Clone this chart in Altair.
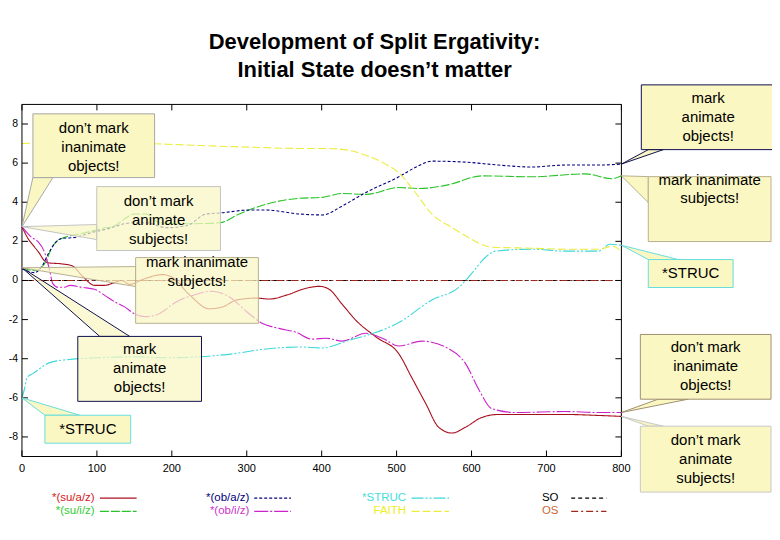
import altair as alt
import pandas as pd

W, H = 601, 353
X_DOM = [0, 800]
Y_DOM = [-9, 9]
FONT = "Liberation Sans"
BOX_FILL = "#faf7c2"

# ---------------- series data ----------------
su_a_z_x = [0, 8, 17, 24, 28, 35, 53, 67, 80, 97, 110, 124, 133, 144, 161, 188, 201, 224, 250, 268,
            286, 313, 330, 353, 379, 397, 410, 427, 446, 473, 503, 520, 539, 556, 574, 592, 614, 636, 725, 769, 800]
su_a_z_y = [2.75, 2.15, 1.7, 1.35, 1.1, 0.9, 0.85, 0.75, 0.25, -0.25, -0.25, -0.1, 0.0, -0.2, 0.05, 0.3, 0.15, -0.75, -1.45, -1.35,
            -1.0, -0.9, -0.95, -0.75, -0.4, -0.3, -0.45, -1.2, -2.05, -2.9, -3.75, -4.95, -6.3, -7.5, -7.8, -7.5, -7.0, -6.85, -6.85, -6.9, -6.95]

su_i_z_x = [0, 17, 31, 40, 53, 80, 106, 124, 137, 150, 166, 184, 220, 264, 290, 326, 370, 401, 427, 459,
            503, 530, 570, 614, 680, 752, 787, 800]
su_i_z_y = [0.65, 0.5, 0.9, 1.7, 2.15, 2.4, 2.65, 2.8, 3.15, 3.4, 3.4, 2.95, 2.9, 2.95, 3.4, 3.9, 4.2, 4.25, 4.45, 4.4,
            4.75, 4.7, 4.9, 5.35, 5.3, 5.45, 5.2, 5.35]

ob_a_z_x = [0, 17, 27, 35, 44, 53, 71, 80, 93, 110, 148, 166, 193, 220, 246, 264, 303, 326, 370, 401,
            427, 459, 503, 526, 547, 592, 636, 680, 725, 769, 800]
ob_a_z_y = [0.6, 0.4, 0.75, 1.35, 1.9, 2.15, 2.2, 2.3, 2.45, 2.6, 2.95, 2.95, 2.7, 2.8, 3.4, 3.45, 3.6, 3.6, 3.4, 3.35,
            3.8, 4.5, 5.3, 5.8, 6.1, 6.05, 5.9, 5.8, 5.9, 5.9, 5.95]

ob_i_z_x = [0, 13, 21, 31, 37, 41, 48, 57, 64, 80, 97, 110, 124, 137, 150, 164, 180, 206, 233, 254,
            277, 300, 321, 343, 366, 387, 406, 427, 459, 481, 503, 534, 570, 592, 610, 627, 659, 725, 769, 800]
ob_i_z_y = [2.75, 2.2, 2.0, 1.35, 0.5, -0.15, -0.35, -0.35, -0.25, -0.35, -0.45, -0.75, -1.1, -1.35, -1.7, -1.85, -1.75, -1.1, -0.7, -0.55,
            -0.85, -1.6, -2.2, -2.45, -2.65, -3.0, -2.95, -3.1, -2.7, -2.95, -3.35, -3.1, -3.5, -4.25, -5.6, -6.55, -6.75, -6.7, -6.75, -6.75]

struc_x = [0, 3, 7, 15, 37, 60, 104, 148, 193, 237, 281, 326, 370, 401, 437, 473, 503, 547, 583, 600,
           619, 632, 680, 725, 769, 785, 800]
struc_y = [-6.0, -5.6, -4.95, -4.75, -4.2, -4.05, -3.95, -3.9, -3.95, -3.9, -3.75, -3.5, -3.4, -3.45, -3.05, -2.65, -2.15, -1.0, -0.35, 0.35,
           1.2, 1.5, 1.6, 1.5, 1.5, 1.85, 1.8]

faith_x = [0, 51, 104, 170, 237, 317, 370, 406, 437, 459, 483, 503, 523, 547, 574, 596, 610, 627, 680, 725, 769, 789, 800]
faith_y = [7.0, 7.05, 7.07, 7.0, 6.9, 6.8, 6.75, 6.75, 6.65, 6.4, 6.0, 5.5, 4.6, 3.4, 2.7, 2.2, 1.9, 1.7, 1.65, 1.6, 1.6, 1.75, 1.45]

so_x = [0, 200, 400, 600, 800]
so_y = [0.0, 0.0, 0.0, 0.0, 0.0]
os_x = [0, 200, 400, 600, 800]
os_y = [0.0, 0.0, 0.0, 0.0, 0.0]

series_names = ["*(su/a/z)", "*(su/i/z)", "*(ob/a/z)", "*(ob/i/z)", "*STRUC", "FAITH", "SO", "OS"]
series_x = [su_a_z_x, su_i_z_x, ob_a_z_x, ob_i_z_x, struc_x, faith_x, so_x, os_x]
series_y = [su_a_z_y, su_i_z_y, ob_a_z_y, ob_i_z_y, struc_y, faith_y, so_y, os_y]
series_colors = ["#a80f1c", "#28c428", "#000080", "#cc22cc", "#3ed8d8", "#ecec3c", "#000000", "#a0281a"]
label_colors = ["#d42020", "#33cc33", "#000080", "#cc33cc", "#44dddd", "#eeee22", "#000000", "#cc6633"]
series_dash = [[1, 0], [9, 2], [3, 2], [14, 2, 2, 2], [12, 2, 2, 2, 2, 2], [8, 3], [4, 3], [7, 3, 2, 3]]

x_ticks = [0, 100, 200, 300, 400, 500, 600, 700, 800]
y_ticks = [-8, -6, -4, -2, 0, 2, 4, 6, 8]

# ---------------- legend layout ----------------
legend_text_x = [97, 97, 303.5, 303.5, 512.5, 512.5, 716, 716]
legend_line_x1 = [104, 104, 310, 310, 520, 520, 733, 733]
legend_line_x2 = [153, 153, 359, 359, 570, 570, 780, 780]
legend_y = [-11.13, -11.8, -11.13, -11.8, -11.13, -11.8, -11.13, -11.8]

# ---------------- callouts ----------------
callout_texts = ["don’t mark\ninanimate\nobjects!", "don’t mark\nanimate\nsubjects!", "mark inanimate\nsubjects!",
                 "mark\nanimate\nobjects!", "*STRUC", "mark\nanimate\nobjects!", "mark inanimate\nsubjects!",
                 "*STRUC", "don’t mark\ninanimate\nobjects!", "don’t mark\nanimate\nsubjects!"]
box_x1 = [14.6, 99.8, 151.7, 74.5, 30.6, 826.6, 835.9, 835.9, 825.3, 825.3]
box_x2 = [177.0, 264.9, 315.5, 239.6, 145.1, 1005.0, 999.7, 949.1, 999.7, 999.7]
box_y1 = [8.52, 4.80, 1.17, -2.86, -6.89, 10.0, 5.31, 1.07, -2.76, -7.45]
box_y2 = [5.26, 1.53, -2.19, -6.18, -8.32, 6.69, 1.99, -0.36, -6.07, -10.82]
first_line_y = [7.81, 4.08, 0.92, -3.52, -7.61, 9.34, 5.16, 0.36, -3.42, -8.17]
box_border = ["#a8a8a8", "#c4c4c4", "#b8b090", "#101050", "#66dddd", "#101050", "#b8b090", "#66dddd", "#a09070", "#c8c8c8"]
box_opacity = [1, 0.72, 0.72, 0.72, 1, 1, 1, 1, 1, 1]
ptr_orient = ["h", "v", "v", "h", "h", "h", "v", "h", "h", "h"]
ptr_tip_x = [0, 0, 0, 0, 0, 800, 800, 800, 800, 800]
ptr_tip_y = [su_a_z_y[0], su_a_z_y[0], su_i_z_y[0], su_i_z_y[0], struc_y[0],
             ob_a_z_y[-1], su_i_z_y[-1], struc_y[-1], ob_i_z_y[-1], su_a_z_y[-1]]
ptr_edge = [5.26, 99.8, 151.7, -2.86, -6.89, 6.69, 835.9, 1.07, -6.07, -7.45]
ptr_from = [14.6, 2.86, 0.71, 103.8, 30.6, 836, 5.31, 836, 849, 836]
ptr_to = [41.3, 2.09, -0.31, 143.8, 77.2, 856, 3.98, 876, 889, 856]

# ---------------- build tables ----------------
rows = []
for name, xs, ys in zip(series_names, series_x, series_y):
    for xv, yv in zip(xs, ys):
        rows.append({"series": name, "x": xv, "y": yv})
df_lines = pd.DataFrame(rows)

df_legend = pd.DataFrame({
    "series": series_names, "tcol": label_colors, "tx": legend_text_x,
    "lx1": legend_line_x1, "lx2": legend_line_x2, "ly": legend_y,
})

df_boxes = pd.DataFrame({
    "id": list(range(len(callout_texts))), "label": callout_texts,
    "x1": box_x1, "x2": box_x2, "y1": box_y1, "y2": box_y2,
    "tx": [(a + b) / 2 for a, b in zip(box_x1, box_x2)], "ty": first_line_y,
    "border": box_border, "op": box_opacity,
})

h_rows, v_rows = [], []
for i, o in enumerate(ptr_orient):
    if o == "h":
        h_rows.append({"id": i, "py": ptr_tip_y[i], "px1": ptr_tip_x[i], "px2": ptr_tip_x[i],
                       "border": box_border[i], "op": box_opacity[i]})
        h_rows.append({"id": i, "py": ptr_edge[i], "px1": ptr_from[i], "px2": ptr_to[i],
                       "border": box_border[i], "op": box_opacity[i]})
    else:
        v_rows.append({"id": i, "px": ptr_tip_x[i], "py1": ptr_tip_y[i], "py2": ptr_tip_y[i],
                       "border": box_border[i], "op": box_opacity[i]})
        v_rows.append({"id": i, "px": ptr_edge[i], "py1": ptr_from[i], "py2": ptr_to[i],
                       "border": box_border[i], "op": box_opacity[i]})
df_ph = pd.DataFrame(h_rows)
df_pv = pd.DataFrame(v_rows)

xs_ = alt.Scale(domain=X_DOM, nice=False, zero=False)
ys_ = alt.Scale(domain=Y_DOM, nice=False, zero=False)
color_scale = alt.Scale(domain=series_names, range=series_colors)
dash_scale = alt.Scale(domain=series_names, range=series_dash)

lines = alt.Chart(df_lines).mark_line(strokeWidth=1.1, interpolate="monotone").encode(
    x=alt.X("x:Q", scale=xs_, axis=None),
    y=alt.Y("y:Q", scale=ys_, axis=None),
    color=alt.Color("series:N", scale=color_scale, legend=None),
    strokeDash=alt.StrokeDash("series:N", scale=dash_scale, legend=None),
    detail="series:N",
)

# frame, inward ticks and tick labels
df_frame = pd.DataFrame({"k": [0]})
frame = alt.Chart(df_frame).mark_rect(fill=None, fillOpacity=0, stroke="black", strokeWidth=1).encode(
    x=alt.value(0), x2=alt.value(W), y=alt.value(0), y2=alt.value(H))

df_yt = pd.DataFrame({"v": y_ticks, "lab": [str(v) for v in y_ticks]})
df_xt = pd.DataFrame({"v": x_ticks, "lab": [str(v) for v in x_ticks]})
tick_l = alt.Chart(df_yt).mark_rule(color="black", strokeWidth=1).encode(
    y=alt.Y("v:Q", scale=ys_, axis=None), x=alt.value(0), x2=alt.value(6))
tick_r = alt.Chart(df_yt).mark_rule(color="black", strokeWidth=1).encode(
    y=alt.Y("v:Q", scale=ys_, axis=None), x=alt.value(W - 6), x2=alt.value(W))
tick_b = alt.Chart(df_xt).mark_rule(color="black", strokeWidth=1).encode(
    x=alt.X("v:Q", scale=xs_, axis=None), y=alt.value(H - 6), y2=alt.value(H))
tick_t = alt.Chart(df_xt).mark_rule(color="black", strokeWidth=1).encode(
    x=alt.X("v:Q", scale=xs_, axis=None), y=alt.value(0), y2=alt.value(6))
lab_y = alt.Chart(df_yt).mark_text(font=FONT, fontSize=10.5, align="right", baseline="middle", color="black").encode(
    y=alt.Y("v:Q", scale=ys_, axis=None), x=alt.value(-4), text="lab:N")
lab_x = alt.Chart(df_xt).mark_text(font=FONT, fontSize=11, align="center", baseline="middle", color="black").encode(
    x=alt.X("v:Q", scale=xs_, axis=None), y=alt.value(H + 13), text="lab:N")

ptr_h = alt.Chart(df_ph).mark_area(orient="horizontal", fill=BOX_FILL, strokeWidth=1).encode(
    y=alt.Y("py:Q", scale=ys_, axis=None),
    x=alt.X("px1:Q", scale=xs_, axis=None, stack=None),
    x2="px2:Q",
    detail="id:N",
    stroke=alt.Stroke("border:N", scale=None),
    fillOpacity=alt.FillOpacity("op:Q", scale=None),
)
ptr_v = alt.Chart(df_pv).mark_area(orient="vertical", fill=BOX_FILL, strokeWidth=1).encode(
    x=alt.X("px:Q", scale=xs_, axis=None),
    y=alt.Y("py1:Q", scale=ys_, axis=None, stack=None),
    y2="py2:Q",
    detail="id:N",
    stroke=alt.Stroke("border:N", scale=None),
    fillOpacity=alt.FillOpacity("op:Q", scale=None),
)

boxes = alt.Chart(df_boxes).mark_rect(fill=BOX_FILL, strokeWidth=1).encode(
    x=alt.X("x1:Q", scale=xs_, axis=None), x2="x2:Q",
    y=alt.Y("y1:Q", scale=ys_, axis=None), y2="y2:Q",
    stroke=alt.Stroke("border:N", scale=None),
    fillOpacity=alt.FillOpacity("op:Q", scale=None),
)
box_text = alt.Chart(df_boxes).mark_text(font=FONT, fontSize=15, lineBreak="\n", lineHeight=19,
                                         align="center", baseline="middle", color="black").encode(
    x=alt.X("tx:Q", scale=xs_, axis=None),
    y=alt.Y("ty:Q", scale=ys_, axis=None),
    text="label:N",
)

leg_text = alt.Chart(df_legend).mark_text(font=FONT, fontSize=11.5, align="right", baseline="middle").encode(
    x=alt.X("tx:Q", scale=xs_, axis=None),
    y=alt.Y("ly:Q", scale=ys_, axis=None),
    text="series:N",
    color=alt.Color("tcol:N", scale=None),
)
leg_line = alt.Chart(df_legend).mark_rule(strokeWidth=1.2).encode(
    x=alt.X("lx1:Q", scale=xs_, axis=None), x2="lx2:Q",
    y=alt.Y("ly:Q", scale=ys_, axis=None),
    color=alt.Color("series:N", scale=color_scale, legend=None),
    strokeDash=alt.StrokeDash("series:N", scale=dash_scale, legend=None),
)

chart = alt.layer(
    lines, frame, tick_l, tick_r, tick_b, tick_t, lab_y, lab_x,
    ptr_h, ptr_v, boxes, box_text, leg_text, leg_line
).properties(
    width=W, height=H,
    title=alt.TitleParams(["Development of Split Ergativity:", "Initial State doesn’t matter"],
                          font=FONT, fontSize=22, fontWeight="bold", color="black",
                          anchor="middle", frame="group", dx=53, offset=2, lineHeight=28),
    autosize=alt.AutoSizeParams(type="none"),
    padding={"left": 14, "top": 96, "right": 151, "bottom": 75},
    background="white",
).configure_view(strokeWidth=0)

chart.save("out.html", embed_options={"renderer": "svg", "actions": False})
